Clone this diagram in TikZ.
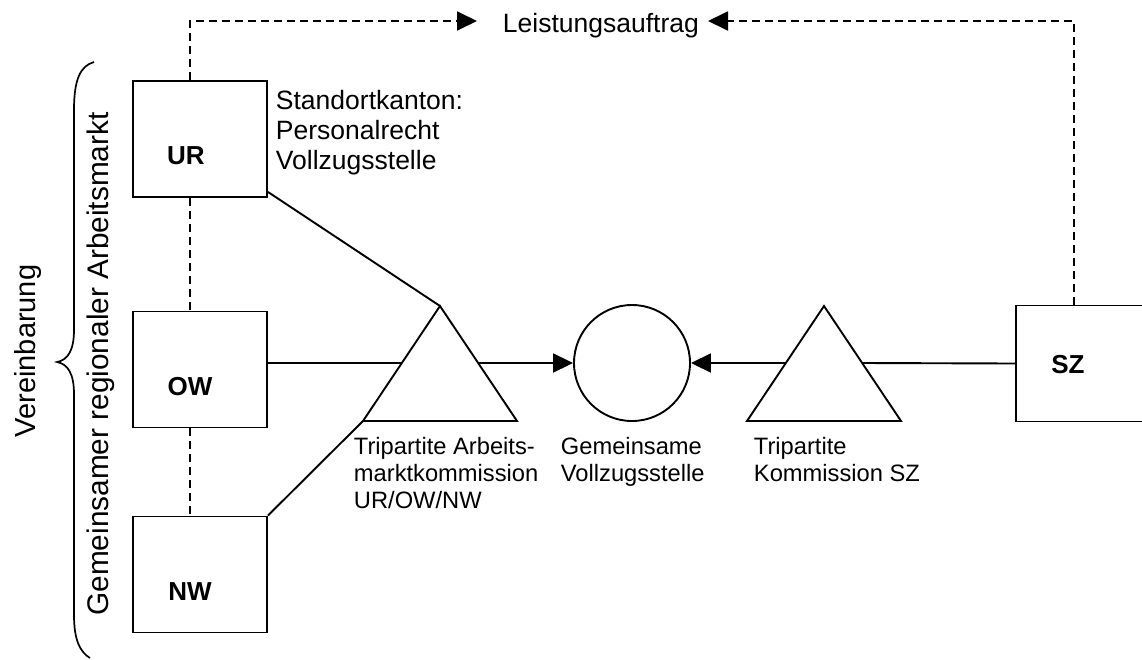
\documentclass[tikz,border=0pt]{standalone}
\usepackage{fontspec}
\setmainfont{Liberation Sans}
\usetikzlibrary{arrows.meta}
\begin{document}
\begin{tikzpicture}[x=1pt,y=-1pt,
  line width=1.9pt,
  boxst/.style={draw, rectangle, minimum width=134pt, minimum height=116pt, inner sep=0pt},
  lbl/.style={font=\fontsize{26}{30}\selectfont\bfseries, inner sep=0pt},
  toptext/.style={font=\fontsize{26.5}{30}\selectfont, inner sep=0pt, align=left},
  subtext/.style={font=\fontsize{23.7}{27}\selectfont, inner sep=0pt, align=left, anchor=north west},
  rottext/.style={rotate=90, anchor=base, inner sep=0pt},
  dashline/.style={dash pattern=on 8pt off 5pt},
  arr/.style={-{Triangle[length=20pt,width=19pt]}},
  tri/.style={draw, fill=white, line join=miter}
]
\useasboundingbox (0,0) rectangle (1142,659);

% boxes
\node[boxst] (ur) at (200,139) {};
\node[boxst] (ow) at (200,369.5) {};
\node[boxst] (nw) at (200,574.5) {};
\node[boxst] (sz) at (1083,363.5) {};
\node[lbl] (urt) at (186,156) {UR};
\node[lbl] (owt) at (190,387) {OW};
\node[lbl] (nwt) at (190,592) {NW};
\node[lbl] (szt) at (1068,365) {SZ};

% circle
\node[draw, circle, minimum size=116pt, inner sep=0pt] (vz) at (632,363) {};

% triangles
\coordinate (t1a) at (440,306);
\coordinate (t1bl) at (363,421);
\coordinate (t1br) at (517,421);
\coordinate (t1l) at (401.8,363);
\coordinate (t1r) at (478.2,363);
\draw[tri] (t1a) -- (t1br) -- (t1bl) -- cycle;
\coordinate (t2a) at (824,306);
\coordinate (t2bl) at (747,421);
\coordinate (t2br) at (901,421);
\coordinate (t2l) at (785.8,363);
\coordinate (t2r) at (862.2,363);
\draw[tri] (t2a) -- (t2br) -- (t2bl) -- cycle;

% solid connectors
\draw ([yshift=6.5pt]ow.east) -- (t1l);
\draw[arr] (t1r) -- (vz.west);
\draw (sz.west) -- (t2r);
\draw[arr] (t2l) -- (vz.east);
\draw ([yshift=6pt]ur.south east) -- (t1a);
\draw (nw.north east) -- (t1bl);

% dashed connectors
\draw[dashline] ([xshift=-10pt]ur.south) -- ([xshift=-10pt]ow.north);
\draw[dashline] ([xshift=-10pt]ow.south) -- ([xshift=-10pt]nw.north);
\coordinate (ltl) at (477,21);
\coordinate (ltr) at (708,21);
\node[toptext, anchor=base west] (lt) at (502,32) {Leistungsauftrag};
\draw[dashline, arr] ([xshift=-10pt]ur.north) |- (ltl);
\draw[dashline, arr] ([xshift=-9pt]sz.north) |- (ltr);

% texts
\node[toptext, anchor=north west] (sk) at (275,89) {Standortkanton:\\Personalrecht\\Vollzugsstelle};
\node[subtext] (t1t) at (353,436) {Tripartite Arbeits-\\marktkommission\\UR/OW/NW};
\node[subtext] (vzt) at (560,436) {Gemeinsame\\Vollzugsstelle};
\node[subtext] (t2t) at (753,436) {Tripartite\\Kommission SZ};

% rotated texts
\node[rottext, font=\fontsize{29}{34}\selectfont] (ver) at (35,351) {Vereinbarung};
\node[rottext, font=\fontsize{29.8}{34}\selectfont] (grm) at (108,364) {Gemeinsamer regionaler Arbeitsmarkt};

% brace
\draw[line width=1.7pt] (94,62) .. controls (80,66) and (74,80) .. (74,110) -- (74,330)
  .. controls (74,350) and (68,360) .. (57,362)
  .. controls (68,364) and (74,374) .. (74,394) -- (74,615)
  .. controls (74,640) and (80,652) .. (90,658);
\end{tikzpicture}
\end{document}
